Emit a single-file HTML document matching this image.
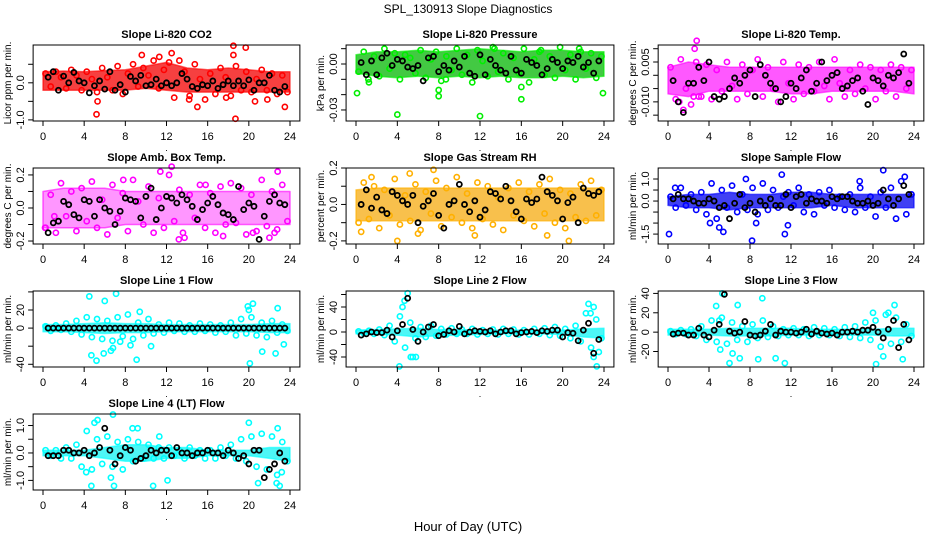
<!DOCTYPE html>
<html><head><meta charset="utf-8"><style>
html,body{margin:0;padding:0;background:#fff;}
svg{display:block;font-family:"Liberation Sans",Arial,sans-serif;}
</style></head><body>
<svg id="chart" width="936" height="540" viewBox="0 0 936 540" xmlns="http://www.w3.org/2000/svg">
<rect width="936" height="540" fill="#fff"/>
<text x="468" y="13" text-anchor="middle" font-size="12">SPL_130913  Slope Diagnostics</text>
<text x="468" y="531" text-anchor="middle" font-size="13">Hour of Day (UTC)</text>
</svg>
<script>
// ---- data (values in panel units) ----
const titles = ["Slope Li-820 CO2","Slope Li-820 Pressure","Slope Li-820 Temp.","Slope Amb. Box Temp.","Slope Gas Stream RH","Slope Sample Flow","Slope Line 1 Flow","Slope Line 2 Flow","Slope Line 3 Flow","Slope Line 4 (LT) Flow"];
const yTitles = ["Licor ppm per min.","kPa per min.","degrees C per min.","degrees C per min.","percent per min.","ml/min per min.","ml/min per min.","ml/min per min.","ml/min per min.","ml/min per min."];
const units = [0.01,0.001,0.001,0.01,0.01,0.1,1,1,1,0.1];
const yMax = [1.02,0.0124,0.0114,0.242,0.2,1.5,41,65.6,42.5,1.42];
const yMin = [-1.03,-0.0372,-0.0172,-0.218,-0.217,-1.95,-43,-56,-36,-1.35];
const yTicks = [[-1,-0.5,0,0.5],[-0.03,-0.02,-0.01,0,0.01],[-0.015,-0.01,-0.005,0,0.005,0.01],[-0.2,-0.1,0,0.1,0.2],[-0.2,-0.1,0,0.1,0.2],[-1.5,-1,-0.5,0,0.5,1],[-40,-20,0,20,40],[-40,-20,0,20,40,60],[-20,0,20,40],[-1,-0.5,0,0.5,1]];
const yLabels = [{"-1":"-1.0","0":"0.0"},{"-0.03":"-0.03","0":"0.00"},{"-0.01":"-0.010","0.005":"0.005"},{"-0.2":"-0.2","0":"0.0","0.2":"0.2"},{"-0.2":"-0.2","0":"0.0","0.2":"0.2"},{"-1.5":"-1.5","0":"0.0","1":"1.0"},{"-40":"-40","0":"0","20":"20"},{"-40":"-40","0":"0","40":"40"},{"-20":"-20","0":"0","20":"20","40":"40"},{"-1":"-1.0","0":"0.0","1":"1.0"}];
const xTicks = [0,4,8,12,16,20,24];
const colors = ["#ff0000","#00ee00","#ff00ff","#ff00ff","#ffb000","#0000ff","#00ffff","#00ffff","#00ffff","#00ffff"];
const bandColors = ["#f41010","#22c022","#ff20ff","#ff40ff","#f5a500","#1010f0","#20f4f4","#20f4f4","#20f4f4","#20f4f4"];
const bandOpacity = [0.8,0.85,0.75,0.55,0.7,0.8,0.8,0.8,0.8,0.8];
const bandHi = [
[30,32,30,33,35,45,55,40,35,40,35,30,30],
[6,8,8,9,8,9,10,9,8,9,9,8,8],
[3,5,4,3,3,3,3,3,3,3,3,3,3],
[10,12,12,12,10,10,10,10,10,10,10,10,10],
[8,9,9,9,9,9,9,9,9,9,9,9,9],
[2,3,3,4,3,3,4,4,3,3,3,3,3],
[4,4,5,6,5,5,4,4,4,4,4,5,5],
[3,4,5,6,4,4,3,3,3,3,3,5,6],
[3,3,3,4,4,4,4,3,3,3,3,4,4],
[1,1,1,2,3,3,2,2,1,1,1,2,2]];
const bandLo = [
[-20,-20,-20,-20,-20,-15,-20,-25,-25,-25,-25,-25,-25],
[-6,-8,-9,-8,-9,-8,-9,-8,-9,-9,-8,-9,-8],
[-7,-8,-6,-6,-6,-6,-7,-7,-6,-6,-6,-6,-7],
[-12,-12,-12,-12,-10,-10,-10,-10,-10,-10,-10,-10,-10],
[-9,-9,-9,-9,-9,-9,-9,-9,-9,-9,-9,-9,-9],
[-2,-3,-3,-4,-3,-3,-3,-3,-2,-3,-3,-3,-3],
[-4,-4,-5,-6,-5,-5,-4,-4,-4,-4,-4,-5,-5],
[-3,-4,-5,-8,-6,-5,-4,-3,-3,-3,-4,-8,-10],
[-3,-3,-3,-4,-4,-4,-3,-3,-3,-3,-3,-4,-4],
[-1,-1,-1,-2,-3,-3,-2,-2,-1,-1,-1,-2,-3]];
const scatter = [
[25,-10,30,15,-15,35,20,-20,30,10,-25,40,15,-20,45,-30,25,50,-10,40,20,60,-15,35,55,-40,60,30,-35,50,10,-45,25,-30,40,15,-35,45,-20,30,-25,10,35,-20,25,-30,20,-25],
[-5,8,-12,5,-8,10,-3,7,-10,6,4,-6,9,-9,3,8,-11,5,-4,10,-7,6,-12,9,2,-8,11,-5,7,-10,4,-6,10,-12,3,8,-7,5,-9,11,-4,6,-10,8,-3,7,-9,5],
[3,-9,6,-5,-11,5,-8,4,-9,2,-6,5,-4,-9,4,-7,2,6,-8,3,-5,-10,5,-3,-9,4,-7,3,-6,5,-4,-9,6,-3,-8,2,-7,4,-5,3,-9,2,-6,4,-8,3,-5,2],
[-12,8,-15,15,-5,10,-14,12,-8,16,-12,5,-16,14,-6,9,-14,17,4,-10,13,-15,6,-12,20,-8,11,-18,8,-6,14,-12,9,-15,13,-10,15,-9,12,-16,8,-14,17,-11,10,-13,14,-8],
[-10,12,-8,10,-13,8,-6,14,-11,5,-9,11,-14,7,-5,13,-12,9,-7,15,-10,6,-13,12,-8,10,-11,4,-14,9,-6,12,-9,7,-12,11,-5,14,-10,8,-13,6,-7,11,-9,13,-6,8],
[2,-3,6,-2,3,-4,4,-6,8,-8,5,-3,7,-5,3,-4,6,-6,8,-4,5,-3,2,4,-2,6,-5,3,-6,4,-2,5,-3,2,-4,3,-5,6,-3,2,-7,4,-3,6,-8,9,-6,3],
[2,-3,3,-2,5,-4,8,-7,12,-10,10,-12,8,-14,12,-9,15,-12,6,-8,10,-6,4,-5,6,-3,5,-4,3,-4,5,-3,4,-5,3,-4,6,-8,10,-6,12,-8,6,-10,8,-5,4,-3],
[1,-2,2,-3,4,-5,10,-15,25,-25,15,-10,8,-8,10,-6,5,-4,6,-3,4,-3,5,-4,3,-3,4,-4,5,-3,4,-4,3,-4,5,-3,6,-5,8,-6,5,-10,10,-15,30,-25,20,-10],
[1,-2,2,-2,3,-4,6,-8,12,-10,15,-12,10,-8,6,-10,8,-6,12,-5,6,-4,3,-3,4,-3,3,-4,5,-3,4,-3,3,-4,5,-5,6,-6,10,-8,12,-15,18,-12,15,-10,8,-4],
[1,-1,1,-2,2,-2,3,-5,8,-6,5,-4,6,-5,4,-6,5,-3,4,-2,3,-2,2,-2,2,-1,1,-2,2,-1,1,-2,1,-2,2,-1,3,-2,5,-3,6,-5,7,-6,6,-8,4,-3]];
const outX = [
[5.2,5.3,9.6,11.3,12.5,14.2,15.0,17.8,18.5,18.5,18.7,19.7,20.6,21.8,23.5],
[0.1,1.2,4.0,8.0,8.0,8.7,12.0,13.4,16.0,16.0,17.9,21.6,23.9],
[1.1,2.6,2.8,3.0,1.5,2.5],
[0.2,1.1,7.8,11.4,12.5,13.2,13.6,15.8,17.5,20.4,22.0,22.8,22.5],
[0.5,1.5,5.2,7.5,6.0,11.5,18.5,20.6,4.0],
[0.1,0.7,4.1,5.0,5.4,7.6,8.2,8.6,11.1,11.4,11.7,21.0,18.7,23.1],
[4.7,4.5,5.2,6.0,5.9,6.6,7.1,7.5,6.8,8.5,9.1,10.5,9.4,20.0,20.4,20.1,21.3,22.8,23.4,19.9,22.6],
[4.5,4.7,5.0,5.3,4.2,5.5,5.8,22.5,22.7,23.0,23.3,23.5,23.0],
[4.7,5.0,5.3,5.1,6.0,6.3,6.8,7.0,9.2,8.8,11.4,10.5,20.0,20.3,21.0,22.1,22.9,21.5],
[4.2,4.7,5.0,5.3,6.8,6.6,6.9,8.7,9.2,10.7,11.3,12.1,20.0,20.9,22.8,22.7,23.0,23.2]];
const outY = [
[-85,-50,75,70,80,-45,-65,-40,100,75,-97,95,-50,-45,-65],
[-19,-10,-33,-17,-21,-10,-34,10,-15,-23,9,10,-19],
[-10,10,13,-8,-13,-8],
[-12,-5,17,22,25,-19,-15,14,-17,-15,-18,22,-15],
[-15,15,17,19,-16,-17,-17,-20,-20],
[-15,6,-10,-12,-14,10,-18,-10,12,-15,-11,14,9,11],
[-30,35,-36,30,-28,-25,38,-15,-22,-19,-35,-20,18,20,27,-39,-26,22,-18,24,-28],
[40,50,62,-40,-55,-40,-40,45,30,-40,-55,-32,40],
[27,12,40,-18,-32,-22,28,-27,35,-28,-32,-27,20,-33,-25,28,-28,20],
[-7,-12,11,12,14,-9,-12,9,9,-12,6,-10,11,-11,9,-11,-12,-7]];
const black = [
[15,30,-20,18,0,28,5,0,-27,-8,5,-17,30,-20,-5,-25,17,5,20,-8,-5,10,-8,0,-8,0,25,10,-10,-15,-5,-8,5,-15,-5,5,-8,5,-8,8,-20,0,0,20,-20,-25,-10],
[1,-7,2,-7,4,7,-1,3,2,-2,-3,-1,-11,4,5,-5,-1,-4,2,-2,5,-6,-8,6,-7,3,-1,-4,-6,5,-4,-6,3,1,-1,-7,-3,3,1,-3,2,1,5,-2,1,-6,2],
[-2,-10,-14,-3,-3,3,-2,5,-8,-9,-8,-5,-1,-3,0,2,-8,4,0,-3,-5,-10,-8,-3,-5,-1,2,-6,-3,5,-2,0,1,-5,-4,-2,-1,-6,-11,-1,-2,-4,0,-1,1,8,-3],
[-15,-9,-8,4,2,-4,-6,5,4,-5,5,0,-2,-10,-2,6,5,4,-6,7,12,-7,0,7,6,3,8,5,1,-7,-1,3,7,2,-3,-4,-7,13,-1,3,1,-19,-5,4,8,3,2],
[0,8,-2,4,-3,-5,7,5,2,0,5,-10,-1,2,6,-6,-13,0,2,11,0,-4,2,-7,-3,7,6,3,10,2,-4,-8,3,1,3,15,7,5,2,-8,1,4,-10,9,6,5,7],
[1,3,1,1,0,-1,-1,1,0,-3,-2,-8,-1,3,-3,-1,-5,0,-2,1,-2,-2,3,-3,2,3,-1,1,0,0,-1,2,1,2,2,0,-1,-1,0,-2,-1,5,1,-2,1,7,3],
[0,0,0,0,0,0,0,0,0,0,0,0,0,0,0,0,0,0,0,0,0,0,0,0,0,0,0,0,0,0,0,0,0,0,0,0,0,0,0,0,0,0,0,0,0,0,0],
[-5,-3,0,-1,-1,3,-8,2,12,54,4,-15,0,8,12,-6,-4,2,0,9,-3,0,2,1,0,2,-3,0,2,2,-3,-1,0,1,-1,2,1,3,3,-8,-1,-2,-14,3,14,-34,-12],
[-2,-1,-1,-3,-3,4,-3,-5,2,8,39,1,-1,0,11,-3,-4,-3,1,8,-3,1,0,0,-1,0,3,-2,1,-1,-2,-1,-3,0,0,1,0,2,2,5,0,-6,3,12,-16,8,-8],
[-1,-1,-1,1,1,0,0,1,-1,0,2,9,1,-4,-1,2,1,-3,-2,-1,1,0,1,1,-1,2,0,0,-1,0,0,1,0,0,-1,1,0,-2,-1,-4,1,1,-9,-6,-4,0,-3]];

// ---- layout ----
const colX0 = [43,356,668], colX24 = [290,604,914];
const rowTop = [45,168,291,414], rowBot = [121,244,367,490];
const NS = "http://www.w3.org/2000/svg";
const svg = document.getElementById("chart");
function mk(tag, attrs, parent){ const e=document.createElementNS(NS,tag); for(const k in attrs) e.setAttribute(k,attrs[k]); (parent||svg).appendChild(e); return e; }

for (let p=0;p<titles.length;p++){
  const c=p%3, r=Math.floor(p/3);
  const xs = h => colX0[c] + (colX24[c]-colX0[c])*h/24;
  const ys = v => rowTop[r] + (yMax[p]-v)/(yMax[p]-yMin[p])*(rowBot[r]-rowTop[r]);
  const L=xs(-0.96), R=xs(24.96), T=rowTop[r], B=rowBot[r];
  const g=mk("g",{});
  
  
  const u=units[p];
  const hi=bandHi[p], lo=bandLo[p];
  let pts=[];
  hi.forEach((v,i)=>pts.push(xs(i*24/(hi.length-1)).toFixed(1)+","+ys(v*u).toFixed(1)));
  for(let i=lo.length-1;i>=0;i--) pts.push(xs(i*24/(lo.length-1)).toFixed(1)+","+ys(lo[i]*u).toFixed(1));
  const band=mk("polygon",{points:pts.join(" "),fill:bandColors[p],"fill-opacity":bandOpacity[p],stroke:colors[p],"stroke-width":"1.5","stroke-opacity":"0.6","stroke-linejoin":"round"},g);
  
  
  const sc=scatter[p];
  sc.forEach((v,i)=>{
    const e=mk("circle",{cx:xs((i+0.5)*24/sc.length),cy:ys(v*u),r:2.6,fill:"none",stroke:colors[p],"stroke-width":1.6},g);
    
    
  });
  outX[p].forEach((h,i)=>{
    const e=mk("circle",{cx:xs(h),cy:ys(outY[p][i]*u),r:2.6,fill:"none",stroke:colors[p],"stroke-width":1.6},g);
    
    
  });
  const bk=black[p];
  bk.forEach((v,i)=>{
    const e=mk("circle",{cx:xs((i+1)*24/(bk.length+1)),cy:ys(v*u),r:2.5,fill:"none",stroke:"#000","stroke-width":1.8},g);
    
    
  });
  const box=mk("rect",{x:L,y:T,width:R-L,height:B-T,fill:"none",stroke:"#000","stroke-width":1},g);
  
  
  const t=mk("text",{x:(L+R)/2,y:T-7,"text-anchor":"middle","font-size":"11","font-weight":"bold"},g);
  t.textContent=titles[p];
  
  
  xTicks.forEach(h=>{
    mk("line",{x1:xs(h),x2:xs(h),y1:B,y2:B+5,stroke:"#000"},g);
    const tl=mk("text",{x:xs(h),y:B+19,"text-anchor":"middle","font-size":"11"},g);
    tl.textContent=String(h);
    
    
  });
  const dot=mk("text",{x:(L+R)/2,y:B+30,"text-anchor":"middle","font-size":"9"},g);
  dot.textContent=".";
  
  
  yTicks[p].forEach(v=>{
    const y=ys(v);
    if(y<T-1||y>B+1) return;
    mk("line",{x1:L-5,x2:L,y1:y,y2:y,stroke:"#000"},g);
    const lab=yLabels[p][String(v)];
    if(lab){
      const tl=mk("text",{x:0,y:0,"text-anchor":"middle","font-size":"11",transform:`translate(${L-9},${y}) rotate(-90)`},g);
      tl.textContent=lab;
      
      
    }
  });
  const yt=mk("text",{x:0,y:0,"text-anchor":"middle","font-size":"10",transform:`translate(${L-22},${(T+B)/2}) rotate(-90)`},g);
  yt.textContent=yTitles[p];
  
  
}
</script>
</body></html>
